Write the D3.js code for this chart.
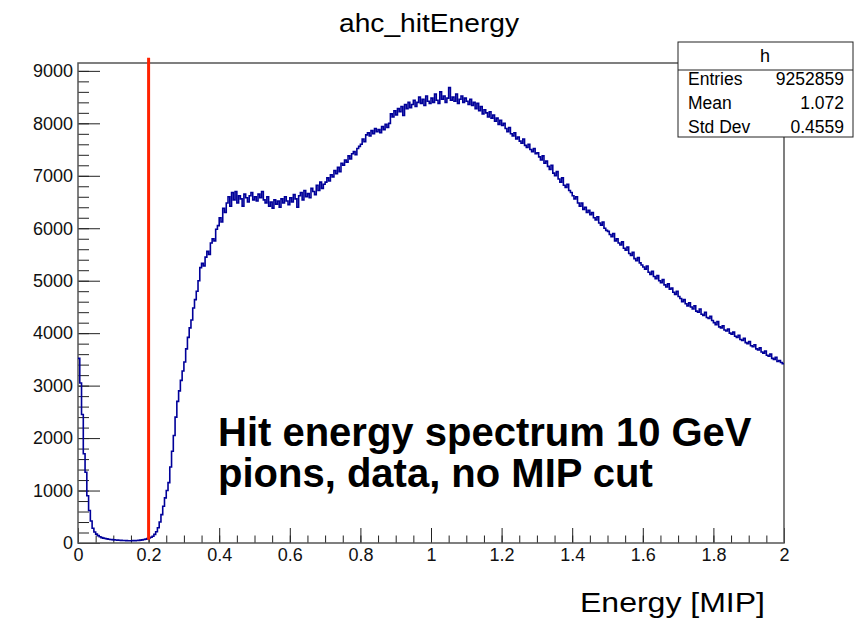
<!DOCTYPE html>
<html>
<head>
<meta charset="utf-8">
<script src="https://cdn.jsdelivr.net/npm/d3@7"></script>
<style>
  body { margin: 0; background: white; }
  svg { display: block; font-family: "Liberation Sans", Arial, sans-serif; }
</style>
</head>
<body>
<svg id="chart"></svg>
<script>
// histogram ahc_hitEnergy, 400 bins from 0 to 2 MIP (one row = 0.1 MIP)
const xMin = 0
const xMax = 2
const counts = [
  3520, 3050, 2450, 1700, 1350, 900, 620, 420, 280, 210, 170, 140, 118, 102, 92, 85, 78, 72, 68, 64,
  60, 58, 55, 52, 50, 48, 47, 45, 44, 44, 44, 45, 46, 48, 51, 55, 60, 66, 74, 84,
  95, 110, 130, 165, 215, 290, 400, 540, 700, 860, 1000, 1150, 1450, 1750, 2050, 2400, 2700, 2900, 3100, 3280,
  3450, 3700, 3920, 4100, 4250, 4480, 4640, 4800, 5000, 5250, 5330, 5280, 5450, 5560, 5500, 5720, 5800, 5760, 5980, 6050,
  6200, 6120, 6380, 6300, 6480, 6600, 6420, 6680, 6540, 6700, 6480, 6620, 6560, 6420, 6650, 6580, 6500, 6620, 6680, 6540,
  6600, 6520, 6650, 6580, 6700, 6540, 6480, 6600, 6420, 6500, 6380, 6540, 6460, 6520, 6400, 6560, 6480, 6600, 6520, 6450,
  6580, 6500, 6640, 6560, 6400, 6620, 6680, 6540, 6720, 6600, 6660, 6580, 6760, 6700, 6640, 6820, 6720, 6880, 6760, 6840,
  6880, 6960, 6900, 7020, 6980, 7100, 7040, 7160, 7080, 7240, 7200, 7300, 7260, 7380, 7320, 7420, 7460, 7400, 7520, 7560,
  7600, 7700, 7650, 7780, 7820, 7760, 7860, 7800, 7900, 7840, 7880, 7820, 7940, 7880, 7980, 7920, 8000, 8180, 8120, 8240,
  8160, 8280, 8220, 8320, 8150, 8360, 8280, 8400, 8300, 8360, 8440, 8320, 8400, 8500, 8380, 8460, 8340, 8520, 8420, 8380,
  8480, 8400, 8560, 8440, 8380, 8600, 8460, 8520, 8400, 8480, 8680, 8440, 8500, 8420, 8560, 8380, 8460, 8520, 8400, 8480,
  8420, 8360, 8460, 8340, 8400, 8280, 8380, 8240, 8320, 8180, 8260, 8200, 8120, 8220, 8100, 8160, 8040, 8100, 7980, 8060,
  7960, 8000, 7900, 7840, 7920, 7800, 7760, 7820, 7700, 7740, 7660, 7620, 7700, 7580, 7540, 7600, 7500, 7460, 7520, 7420,
  7440, 7360, 7300, 7380, 7240, 7280, 7180, 7120, 7200, 7050, 7000, 7080, 6940, 6880, 6960, 6820, 6780, 6840, 6720, 6680,
  6620, 6560, 6600, 6480, 6420, 6480, 6360, 6400, 6300, 6340, 6260, 6300, 6200, 6160, 6220, 6100, 6060, 6120, 6000, 5960,
  5940, 5880, 5840, 5900, 5760, 5800, 5720, 5680, 5740, 5620, 5580, 5640, 5520, 5480, 5540, 5420, 5380, 5440, 5340, 5300,
  5260, 5220, 5280, 5160, 5120, 5180, 5080, 5040, 5100, 5000, 4960, 5020, 4920, 4880, 4940, 4840, 4860, 4780, 4740, 4800,
  4700, 4660, 4600, 4640, 4560, 4520, 4580, 4500, 4460, 4520, 4420, 4400, 4460, 4360, 4340, 4400, 4300, 4280, 4320, 4240,
  4200, 4160, 4220, 4120, 4100, 4140, 4060, 4040, 4080, 4000, 3980, 4020, 3940, 3920, 3960, 3880, 3860, 3900, 3820, 3800,
  3840, 3760, 3740, 3780, 3700, 3680, 3720, 3640, 3620, 3660, 3580, 3560, 3600, 3520, 3500, 3540, 3460, 3480, 3440, 3420
]

const xTicks = [0, 0.2, 0.4, 0.6, 0.8, 1, 1.2, 1.4, 1.6, 1.8, 2]
const yTicks = [0, 1000, 2000, 3000, 4000, 5000, 6000, 7000, 8000, 9000]
const yMax = 9150

const cutValue = 0.2
const cutRange = [60, 9250]

const statLabels = ["Entries", "Mean", "Std Dev"]
const statValues = ["9252859", "1.072", "0.4559"]

const titleText = "ahc_hitEnergy"
const xLabel = "Energy [MIP]"
const noteLines = ["Hit energy spectrum 10 GeV", "pions, data, no MIP cut"]

const w = 854
const h = 618
const frameL = 78
const frameR = 784
const frameT = 63
const frameB = 543

const svg = d3.select("#chart").attr("width", w).attr("height", h)

const x = d3.scaleLinear().domain([xMin, xMax]).range([frameL, frameR])
const y = d3.scaleLinear().domain([0, yMax]).range([frameB, frameT])

// title
svg.append("text")
  .attr("x", 429).attr("y", 32)
  .attr("text-anchor", "middle")
  .attr("font-size", 25)
  .attr("textLength", 180).attr("lengthAdjust", "spacingAndGlyphs")
  .text(titleText)

// axes
const xMinor = d3.range(xMin, xMax + 1e-9, 0.05)
const yMinor = d3.range(0, yMax, 200)

svg.append("g")
  .attr("transform", `translate(0,${frameB})`)
  .call(d3.axisBottom(x).tickValues(xMinor).tickSize(-7.5).tickFormat(""))
  .call((g) => g.select(".domain").remove())

svg.append("g")
  .attr("class", "x-axis")
  .attr("transform", `translate(0,${frameB})`)
  .call(d3.axisBottom(x).tickValues(xTicks).tickSize(-15).tickPadding(5)
    .tickFormat(d3.format("~g")))
  .call((g) => g.select(".domain").remove())

svg.append("g")
  .attr("transform", `translate(${frameL},0)`)
  .call(d3.axisLeft(y).tickValues(yMinor).tickSize(-11).tickFormat(""))
  .call((g) => g.select(".domain").remove())

svg.append("g")
  .attr("class", "y-axis")
  .attr("transform", `translate(${frameL},0)`)
  .call(d3.axisLeft(y).tickValues(yTicks).tickSize(-22).tickPadding(5)
    .tickFormat(d3.format("d")))
  .call((g) => g.select(".domain").remove())

svg.selectAll(".tick line").attr("stroke", "#222").attr("stroke-width", 1)
svg.selectAll(".x-axis text, .y-axis text")
  .attr("font-size", 18)
  .attr("font-family", "Liberation Sans, Arial, sans-serif")
  .attr("fill", "#111")

// frame
svg.append("rect")
  .attr("x", frameL).attr("y", frameT)
  .attr("width", frameR - frameL).attr("height", frameB - frameT)
  .attr("fill", "none")
  .attr("stroke", "#555")
  .attr("stroke-width", 1.5)

// histogram as steps
const binW = (xMax - xMin) / counts.length
const steps = counts.map((c, i) => [xMin + i * binW, c])
steps.push([xMax, counts[counts.length - 1]])

svg.append("path")
  .datum(steps)
  .attr("fill", "none")
  .attr("stroke", "#000099")
  .attr("stroke-width", 1.6)
  .attr("d", d3.line()
    .x((d) => x(d[0]))
    .y((d) => y(d[1]))
    .curve(d3.curveStepAfter))

// cut line
svg.append("line")
  .attr("x1", x(cutValue)).attr("x2", x(cutValue))
  .attr("y1", y(cutRange[0])).attr("y2", y(cutRange[1]))
  .attr("stroke", "#ff2200")
  .attr("stroke-width", 3)

// stats box
const stats = svg.append("g")
stats.append("rect")
  .attr("x", 678).attr("y", 42)
  .attr("width", 175).attr("height", 95)
  .attr("fill", "white")
  .attr("stroke", "#222")
  .attr("stroke-width", 1)
stats.append("line")
  .attr("x1", 678).attr("x2", 853)
  .attr("y1", 70).attr("y2", 70)
  .attr("stroke", "#222")
stats.append("text")
  .attr("x", 765).attr("y", 62)
  .attr("text-anchor", "middle")
  .attr("font-size", 18)
  .text("h")
statLabels.forEach((lab, i) => {
  stats.append("text")
    .attr("x", 688).attr("y", 85 + i * 24)
    .attr("font-size", 17.5)
    .text(lab)
  stats.append("text")
    .attr("x", 844).attr("y", 85 + i * 24)
    .attr("text-anchor", "end")
    .attr("font-size", 17.5)
    .text(statValues[i])
})

// annotation
noteLines.forEach((line, i) => {
  svg.append("text")
    .attr("x", 218).attr("y", 446 + i * 41)
    .attr("font-size", 40)
    .attr("font-weight", "bold")
    .attr("fill", "black")
    .text(line)
})

// x axis title
svg.append("text")
  .attr("x", 765).attr("y", 612)
  .attr("text-anchor", "end")
  .attr("font-size", 28)
  .attr("textLength", 185).attr("lengthAdjust", "spacingAndGlyphs")
  .text(xLabel)
</script>
</body>
</html>
